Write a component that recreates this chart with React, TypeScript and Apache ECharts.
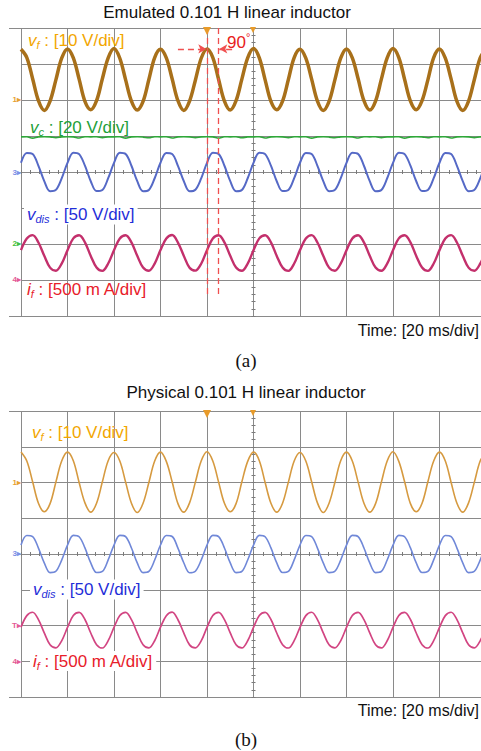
import { useEffect, useRef } from 'react';
import * as echarts from 'echarts';

// ---------- data ----------
const timeMs = [
  -100, -97.5, -95, -92.5, -90, -87.5, -85, -82.5, -80, -77.5, -75, -72.5, -70, -67.5, -65, -62.5,
  -60, -57.5, -55, -52.5, -50, -47.5, -45, -42.5, -40, -37.5, -35, -32.5, -30, -27.5, -25, -22.5,
  -20, -17.5, -15, -12.5, -10, -7.5, -5, -2.5, 0, 2.5, 5, 7.5, 10, 12.5, 15, 17.5,
  20, 22.5, 25, 27.5, 30, 32.5, 35, 37.5, 40, 42.5, 45, 47.5, 50, 52.5, 55, 57.5,
  60, 62.5, 65, 67.5, 70, 72.5, 75, 77.5, 80, 82.5, 85, 87.5, 90, 92.5, 95, 97.5, 100,
];

// (a) emulated inductor
const aVf = [
  8.4, 6.1, 0.2, -5.9, -8.6, -6.0, -0.1, 5.9,
  8.5, 6.0, 0.1, -6.1, -8.4, -5.9, 0.2, 6.0,
  8.6, 5.9, -0.1, -6.0, -8.5, -6.1, 0.0, 6.1,
  8.4, 6.0, 0.2, -5.9, -8.6, -6.0, -0.2, 5.9,
  8.5, 6.1, 0.0, -6.0, -8.5, -5.9, 0.1, 6.0,
  8.6, 6.0, -0.1, -6.1, -8.4, -6.0, 0.0, 6.1,
  8.4, 5.9, 0.1, -6.0, -8.6, -6.1, -0.1, 5.9,
  8.5, 6.0, 0.2, -5.9, -8.5, -6.0, 0.1, 6.0,
  8.6, 6.1, 0.0, -6.0, -8.4, -5.9, -0.1, 6.1,
  8.5, 5.9, 0.1, -6.1, -8.6, -6.0, 0.0, 6.0,
  8.5,
];
const aVc = [
  58.9, 59.0, 58.2, 58.9, 59.0, 58.9, 58.4, 58.9,
  59.0, 58.9, 58.3, 59.0, 58.9, 59.0, 58.5, 58.9,
  58.9, 59.0, 58.2, 58.9, 59.0, 58.8, 58.4, 59.0,
  58.9, 59.0, 58.3, 58.9, 59.0, 58.9, 58.5, 58.9,
  59.0, 58.9, 58.2, 59.0, 58.9, 59.0, 58.4, 58.9,
  58.9, 59.0, 58.3, 58.9, 59.0, 58.9, 58.5, 59.0,
  58.9, 59.0, 58.2, 58.9, 59.0, 58.8, 58.4, 58.9,
  59.0, 58.9, 58.3, 59.0, 58.9, 59.0, 58.5, 58.9,
  58.9, 59.0, 58.2, 58.9, 59.0, 58.9, 58.4, 59.0,
  58.9, 59.0, 58.3, 58.9, 59.0, 58.9, 58.5, 58.9,
  58.9,
];
const aVdis = [
  12.8, 26.5, 25.0, 8.6, -12.6, -26.7, -24.8, -8.8,
  12.6, 26.7, 24.8, 8.8, -12.8, -26.5, -25.0, -8.6,
  12.7, 26.6, 24.9, 8.7, -12.7, -26.6, -24.9, -8.7,
  12.9, 26.4, 25.1, 8.5, -12.5, -26.8, -24.7, -8.9,
  12.7, 26.6, 24.9, 8.7, -12.7, -26.6, -24.9, -8.7,
  12.6, 26.7, 24.8, 8.8, -12.8, -26.5, -25.0, -8.6,
  12.8, 26.5, 25.0, 8.6, -12.6, -26.7, -24.8, -8.8,
  12.7, 26.6, 24.9, 8.7, -12.7, -26.6, -24.9, -8.7,
  12.6, 26.7, 24.8, 8.8, -12.8, -26.5, -25.0, -8.6,
  12.8, 26.5, 25.0, 8.6, -12.6, -26.7, -24.8, -8.8,
  12.7,
];
const aIf = [
  40, 201, 248, 146, -38, -203, -246, -148,
  38, 203, 246, 148, -40, -201, -248, -146,
  39, 202, 247, 147, -39, -202, -247, -147,
  41, 200, 249, 145, -37, -204, -245, -149,
  39, 202, 247, 147, -39, -202, -247, -147,
  38, 203, 246, 148, -40, -201, -248, -146,
  40, 201, 248, 146, -38, -203, -246, -148,
  39, 202, 247, 147, -39, -202, -247, -147,
  38, 203, 246, 148, -40, -201, -248, -146,
  40, 201, 248, 146, -38, -203, -246, -148,
  39,
];

// (b) physical inductor
const bVf = [
  8.4, 5.9, 0.1, -5.9, -8.3, -6.0, 0.0, 5.9,
  8.4, 6.0, -0.1, -5.8, -8.4, -5.9, 0.1, 6.0,
  8.3, 5.9, 0.0, -5.9, -8.5, -5.9, -0.1, 5.9,
  8.4, 5.8, 0.1, -6.0, -8.4, -5.8, 0.0, 5.9,
  8.5, 5.9, 0.0, -5.9, -8.3, -6.0, 0.1, 5.8,
  8.4, 6.0, -0.1, -5.9, -8.4, -5.9, 0.0, 5.9,
  8.3, 5.9, 0.1, -5.8, -8.5, -5.9, -0.1, 6.0,
  8.4, 5.9, 0.0, -5.9, -8.4, -6.0, 0.0, 5.9,
  8.5, 5.8, 0.1, -6.0, -8.3, -5.9, 0.1, 5.9,
  8.4, 5.9, -0.1, -5.9, -8.4, -5.8, 0.0, 5.9,
  8.4,
];
const bVdis = [
  12.5, 25.9, 24.4, 8.3, -12.3, -26.1, -24.2, -8.5,
  12.3, 26.1, 24.2, 8.5, -12.5, -25.9, -24.4, -8.3,
  12.4, 26.0, 24.3, 8.4, -12.4, -26.0, -24.3, -8.4,
  12.6, 25.8, 24.5, 8.2, -12.2, -26.2, -24.1, -8.6,
  12.4, 26.0, 24.3, 8.4, -12.4, -26.0, -24.3, -8.4,
  12.3, 26.1, 24.2, 8.5, -12.5, -25.9, -24.4, -8.3,
  12.5, 25.9, 24.4, 8.3, -12.3, -26.1, -24.2, -8.5,
  12.4, 26.0, 24.3, 8.4, -12.4, -26.0, -24.3, -8.4,
  12.3, 26.1, 24.2, 8.5, -12.5, -25.9, -24.4, -8.3,
  12.5, 25.9, 24.4, 8.3, -12.3, -26.1, -24.2, -8.5,
  12.4,
];
const bIf = [
  40, 203, 250, 147, -38, -205, -248, -149,
  38, 205, 248, 149, -40, -203, -250, -147,
  39, 204, 249, 148, -39, -204, -249, -148,
  41, 202, 251, 146, -37, -206, -247, -150,
  39, 204, 249, 148, -39, -204, -249, -148,
  38, 205, 248, 149, -40, -203, -250, -147,
  40, 203, 250, 147, -38, -205, -248, -149,
  39, 204, 249, 148, -39, -204, -249, -148,
  38, 205, 248, 149, -40, -203, -250, -147,
  40, 203, 250, 147, -38, -205, -248, -149,
  39,
];

// scope settings (per division)
const vfPerDiv = 10; // V/div
const vcPerDiv = 20; // V/div
const vdisPerDiv = 50; // V/div
const ifPerDiv = 500; // mA/div
const timePerDiv = 20; // ms/div

// ---------- layout / style ----------
const F = "'Liberation Sans', Arial, Helvetica, sans-serif";
const SERIF = "'Liberation Serif', 'Times New Roman', serif";
const GRID = '#8a8a8a';
const TICK = '#7a7a7a';
const ORANGE_LBL = '#f2a600';
const GREEN_LBL = '#22a038';
const BLUE_LBL = '#1f2ed8';
const RED_LBL = '#e8202a';
const CUR = '#f05050';

const gridA = { left: 21, top: 28, width: 465, height: 288 };
const gridB = { left: 21, top: 411, width: 465, height: 286 };
// channel zero positions (divisions above screen centre)
const zeroA = { vf: 2.57, vc: -1.97, vdis: 0, ifc: -2.25 };
const zeroB = { vf: 2.01, vdis: 0, ifc: -2.13 };

function timeAxis(gridIndex: number, yZero: number, pos: 'bottom' | 'top', grid: boolean) {
  return {
    type: 'value',
    gridIndex,
    min: -5 * timePerDiv,
    max: 5 * timePerDiv,
    interval: timePerDiv,
    position: pos,
    axisLine: { show: true, onZero: true, onZeroAxisIndex: yZero, lineStyle: { color: GRID, width: 1 } },
    axisTick: { show: true, length: 2, lineStyle: { color: TICK } },
    minorTick: { show: true, splitNumber: 5, length: 2, lineStyle: { color: TICK } },
    axisLabel: { show: false },
    splitLine: { show: grid, lineStyle: { color: GRID, width: 1 } },
  };
}
function divAxis(gridIndex: number, xZero: number, pos: 'left' | 'right', grid: boolean) {
  return {
    type: 'value',
    gridIndex,
    min: -4,
    max: 4,
    interval: 1,
    position: pos,
    axisLine: { show: true, onZero: true, onZeroAxisIndex: xZero, lineStyle: { color: GRID, width: 1 } },
    axisTick: { show: true, length: 2, lineStyle: { color: TICK } },
    minorTick: { show: true, splitNumber: 5, length: 2, lineStyle: { color: TICK } },
    axisLabel: { show: false },
    splitLine: { show: grid, lineStyle: { color: GRID, width: 1 } },
  };
}
function chanAxis(gridIndex: number, perDiv: number, zeroDiv: number) {
  return {
    type: 'value',
    gridIndex,
    show: false,
    min: (-4 - zeroDiv) * perDiv,
    max: (4 - zeroDiv) * perDiv,
    splitLine: { show: false },
    axisLine: { onZero: false },
  };
}
function trace(name: string, xi: number, yi: number, vals: number[], color: string, width: number) {
  return {
    name,
    type: 'line',
    xAxisIndex: xi,
    yAxisIndex: yi,
    data: timeMs.map((t, i) => [t, vals[i]]),
    showSymbol: false,
    symbol: 'none',
    smooth: 0.35,
    silent: true,
    z: 3,
    lineStyle: { color, width },
  };
}
function chanLabel(x: number, y: number, main: string, sub: string, rest: string, color: string, bg?: boolean) {
  return {
    type: 'text',
    x,
    y,
    z: 100,
    style: {
      text: `{v|${main}}{s|${sub}}{n| : ${rest}}`,
      align: 'left',
      verticalAlign: 'middle',
      backgroundColor: bg ? '#ffffff' : undefined,
      padding: bg ? [0, 3, 0, 3] : 0,
      rich: {
        v: { fontSize: 17, fontStyle: 'italic', fontFamily: F, fill: color, lineHeight: 20 },
        s: { fontSize: 11, fontStyle: 'italic', fontFamily: F, fill: color, lineHeight: 10, verticalAlign: 'bottom' },
        n: { fontSize: 17, fontFamily: F, fill: color, lineHeight: 20 },
      },
    },
  };
}
function plainText(x: number, y: number, text: string, size: number, align: string, family = F, color = '#111') {
  return {
    type: 'text',
    x,
    y,
    z: 100,
    style: { text, fontSize: size, fontFamily: family, fill: color, align, verticalAlign: 'middle' },
  };
}
function marker(y: number, text: string, color: string) {
  return {
    type: 'text',
    x: 21,
    y,
    z: 100,
    style: { text, fontSize: 8, fontFamily: F, fontWeight: 'bold', fill: color, align: 'right', verticalAlign: 'middle' },
  };
}
function topMarker(x: number, y: number, half: number) {
  return {
    type: 'polygon',
    z: 100,
    shape: { points: [[x - half, y - half], [x + half, y - half], [x, y + half]] },
    style: { fill: '#e89b2a' },
  };
}
function borderExt(y: number) {
  return { type: 'line', z: 1, shape: { x1: 9, y1: y, x2: 21, y2: y }, style: { stroke: GRID, lineWidth: 1 } };
}

export default function App() {
  const ref = useRef<HTMLDivElement>(null);
  useEffect(() => {
    if (!ref.current) return;
    const chart = echarts.init(ref.current, undefined, { renderer: 'svg' });
    const option = {
      animation: false,
      backgroundColor: '#ffffff',
      grid: [
        { ...gridA, outerBoundsMode: 'none', containLabel: false },
        { ...gridB, outerBoundsMode: 'none', containLabel: false },
      ],
      xAxis: [
        timeAxis(0, 0, 'bottom', true),
        timeAxis(0, 0, 'top', false),
        timeAxis(1, 6, 'bottom', true),
        timeAxis(1, 6, 'top', false),
      ],
      yAxis: [
        divAxis(0, 0, 'left', true), // 0
        divAxis(0, 0, 'right', false), // 1
        chanAxis(0, vfPerDiv, zeroA.vf), // 2
        chanAxis(0, vcPerDiv, zeroA.vc), // 3
        chanAxis(0, vdisPerDiv, zeroA.vdis), // 4
        chanAxis(0, ifPerDiv, zeroA.ifc), // 5
        divAxis(1, 2, 'left', true), // 6
        divAxis(1, 2, 'right', false), // 7
        chanAxis(1, vfPerDiv, zeroB.vf), // 8
        chanAxis(1, vdisPerDiv, zeroB.vdis), // 9
        chanAxis(1, ifPerDiv, zeroB.ifc), // 10
      ],
      series: [
        trace('a v_f', 0, 2, aVf, '#a8701a', 3.5),
        trace('a v_c', 0, 3, aVc, '#2fa83a', 1.6),
        trace('a v_dis', 0, 4, aVdis, '#5569c6', 2),
        trace('a i_f', 0, 5, aIf, '#c3306c', 2.4),
        trace('b v_f', 2, 8, bVf, '#d69a40', 1.6),
        trace('b v_dis', 2, 9, bVdis, '#7088d8', 1.6),
        trace('b i_f', 2, 10, bIf, '#d24582', 1.7),
        {
          name: 'cursors',
          type: 'line',
          xAxisIndex: 0,
          yAxisIndex: 0,
          data: [],
          silent: true,
          z: 4,
          markLine: {
            silent: true,
            animation: false,
            symbol: ['none', 'none'],
            label: { show: false },
            lineStyle: { color: CUR, width: 1.3, type: [6, 4] },
            emphasis: { disabled: true },
            data: [
              [{ coord: [-20, 4] }, { coord: [-20, -3.42] }],
              [{ coord: [-15, 4] }, { coord: [-15, -3.42] }],
              [
                { coord: [-32.5, 3.42], symbol: 'none' },
                { coord: [-20.3, 3.42], symbol: 'arrow', symbolSize: [7, 8], itemStyle: { color: '#e82020' } },
              ],
              [
                { coord: [-9.2, 3.42], symbol: 'none' },
                { coord: [-14.7, 3.42], symbol: 'arrow', symbolSize: [7, 8], itemStyle: { color: '#e82020' } },
              ],
            ],
          },
        },
      ],
      graphic: [
        borderExt(28.5),
        borderExt(316.5),
        borderExt(411.5),
        borderExt(697.5),
        plainText(227, 12, 'Emulated 0.101 H linear inductor', 17, 'center'),
        plainText(246, 392, 'Physical 0.101 H linear inductor', 17, 'center'),
        chanLabel(28, 40.5, 'v', 'f', '[10 V/div]', ORANGE_LBL),
        chanLabel(30, 127.5, 'v', 'c', '[20 V/div]', GREEN_LBL),
        chanLabel(24, 214.5, 'v', 'dis', '[50 V/div]', BLUE_LBL, true),
        chanLabel(27, 289.5, 'i', 'f', '[500 m A/div]', RED_LBL),
        chanLabel(32, 432.5, 'v', 'f', '[10 V/div]', ORANGE_LBL),
        chanLabel(30, 589.5, 'v', 'dis', '[50 V/div]', BLUE_LBL, true),
        chanLabel(30, 661, 'i', 'f', '[500 m A/div]', RED_LBL, true),
        {
          type: 'text',
          x: 227,
          y: 42,
          z: 100,
          style: {
            text: '{n|90}{d|°}',
            align: 'left',
            verticalAlign: 'middle',
            rich: {
              n: { fontSize: 17, fontFamily: F, fill: '#e82020', lineHeight: 22 },
              d: { fontSize: 11, fontFamily: F, fill: '#e82020', lineHeight: 12, verticalAlign: 'top' },
            },
          },
        },
        plainText(479, 330.5, 'Time: [20 ms/div]', 16, 'right'),
        plainText(479, 710.5, 'Time: [20 ms/div]', 16, 'right'),
        plainText(246, 360, '(a)', 19, 'center', SERIF),
        plainText(246, 739, '(b)', 19, 'center', SERIF),
        marker(99, '1▸', '#e6a030'),
        marker(172, '3▸', '#7a90e6'),
        marker(243, '2▸', '#40c040'),
        marker(279, '4▸', '#e45a96'),
        marker(482, '1▸', '#e6a030'),
        marker(553, '3▸', '#7a90e6'),
        marker(625, 'T▸', '#e45a96'),
        marker(661, '4▸', '#e45a96'),
        topMarker(207, 31, 4),
        topMarker(253, 30, 3),
        topMarker(207, 414, 4),
        topMarker(253, 413, 3),
      ],
    };
    chart.setOption(option as any);
    return () => chart.dispose();
  }, []);
  return (
    <div
      ref={ref}
      style={{ position: 'fixed', left: 0, top: 0, width: 481, height: 751, background: '#fff' }}
    />
  );
}
